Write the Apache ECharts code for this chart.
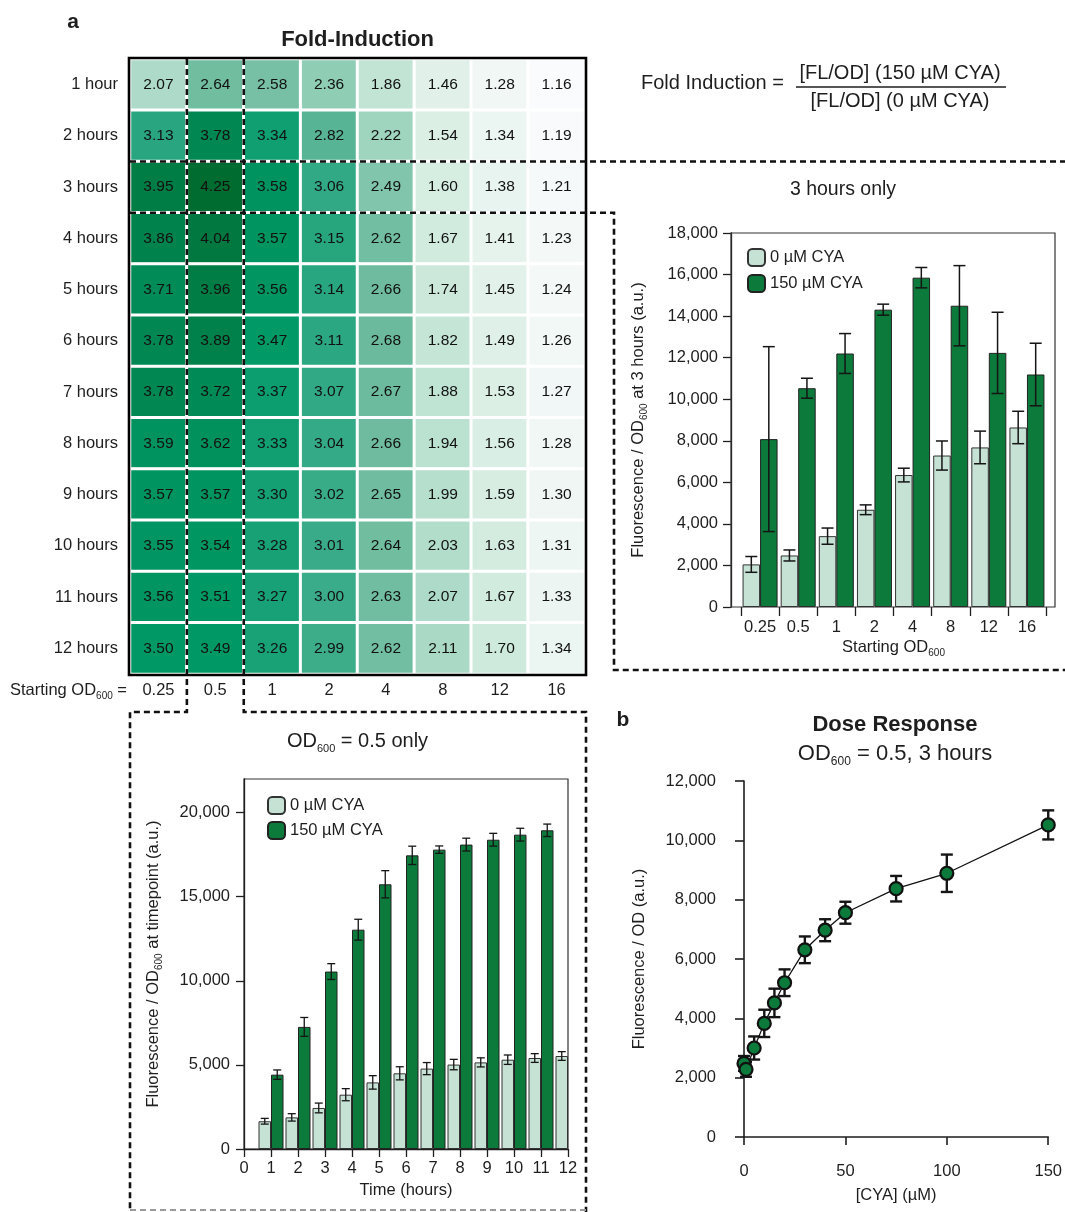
<!DOCTYPE html>
<html><head><meta charset="utf-8">
<script src="https://cdn.jsdelivr.net/npm/echarts@6/dist/echarts.min.js"></script>
<style>html,body{margin:0;padding:0;background:#fff}#c{width:1065px;height:1212px}</style>
</head><body><div id="c"></div>
<script>
// ---------- DATA ----------
const hmRows = ['1 hour','2 hours','3 hours','4 hours','5 hours','6 hours','7 hours','8 hours','9 hours','10 hours','11 hours','12 hours'];
const hmCols = ['0.25','0.5','1','2','4','8','12','16'];
const foldInduction = [
  [2.07,2.64,2.58,2.36,1.86,1.46,1.28,1.16],
  [3.13,3.78,3.34,2.82,2.22,1.54,1.34,1.19],
  [3.95,4.25,3.58,3.06,2.49,1.60,1.38,1.21],
  [3.86,4.04,3.57,3.15,2.62,1.67,1.41,1.23],
  [3.71,3.96,3.56,3.14,2.66,1.74,1.45,1.24],
  [3.78,3.89,3.47,3.11,2.68,1.82,1.49,1.26],
  [3.78,3.72,3.37,3.07,2.67,1.88,1.53,1.27],
  [3.59,3.62,3.33,3.04,2.66,1.94,1.56,1.28],
  [3.57,3.57,3.30,3.02,2.65,1.99,1.59,1.30],
  [3.55,3.54,3.28,3.01,2.64,2.03,1.63,1.31],
  [3.56,3.51,3.27,3.00,2.63,2.07,1.67,1.33],
  [3.50,3.49,3.26,2.99,2.62,2.11,1.70,1.34]
];

const od3Categories = ['0.25','0.5','1','2','4','8','12','16'];
const od3Cya0      = [2050,2480,3410,4680,6350,7290,7680,8640];
const od3Cya0Err   = [380,265,390,235,330,700,785,780];
const od3Cya150    = [8080,10530,12200,14310,15850,14500,12230,11190];
const od3Cya150Err = [4450,480,960,265,490,1930,1955,1505];

const timeHours  = [1,2,3,4,5,6,7,8,9,10,11,12];
const tCya0      = [1650,1880,2440,3230,3960,4500,4780,5020,5150,5310,5410,5530];
const tCya0Err   = [170,220,290,360,400,390,360,310,270,280,260,260];
const tCya150    = [4420,7260,10550,13040,15740,17460,17800,18100,18390,18690,18950,null];
const tCya150Err = [280,560,470,620,810,545,220,380,380,380,370,null];

const doseCya = [0,1,5,10,15,20,30,40,50,75,100,150];
const doseFl  = [2480,2280,3000,3830,4520,5200,6310,6970,7560,8370,8890,10520];
const doseErr = [250,250,390,460,480,450,450,370,370,430,630,490];

const legendNames = ['0 µM CYA','150 µM CYA'];

// ---------- STYLE ----------
const FF = '"Liberation Sans", Arial, Helvetica, sans-serif';
const INK = '#1e1e1e';
const LIGHT = '#c6e2d5', DARK = '#0b7a3a';
const HM = {left:130, top:59, width:455, height:615};
const colW = HM.width / hmCols.length, rowH = HM.height / hmRows.length;

const fmt = v => Number(v).toLocaleString('en-US');
const subRich = (size, sub, lh) => ({
  n:{fontSize:size, fontFamily:FF, color:INK, lineHeight:lh, verticalAlign:'middle'},
  s:{fontSize:sub, fontFamily:FF, color:INK, lineHeight:8, verticalAlign:'bottom'}
});

function errBar(offset, cap, lw) {
  return function (params, api) {
    const x = api.value(0), lo = api.value(1), hi = api.value(2);
    const a = api.coord([x, lo]), b = api.coord([x, hi]);
    const cx = a[0] + offset;
    const st = {stroke: '#151515', lineWidth: lw};
    return {type:'group', children:[
      {type:'line', shape:{x1:cx, y1:a[1], x2:cx, y2:b[1]}, style:st},
      {type:'line', shape:{x1:cx-cap, y1:a[1], x2:cx+cap, y2:a[1]}, style:st},
      {type:'line', shape:{x1:cx-cap, y1:b[1], x2:cx+cap, y2:b[1]}, style:st}
    ]};
  };
}
const errData = (xs, ys, es) => ys.map((v,i)=> v==null ? null : [xs[i], v-es[i], v+es[i]]).filter(d=>d);

const heatData = [];
foldInduction.forEach((row, r) => row.forEach((v, c) => heatData.push([c, r, v])));

const axisLineStyle = {color: INK, width: 1.3};
const labelStyle = {fontSize:16.5, fontFamily:FF, color:INK};

const chart = echarts.init(document.getElementById('c'), null, {renderer:'canvas'});
const option = {
  backgroundColor:'#fff',
  animation:false,
  grid:[
    {left:HM.left, top:HM.top, width:HM.width, height:HM.height},
    {left:741, top:233, width:305, height:374},
    {left:244, top:779, width:324, height:370, show:true, borderColor:'#333', borderWidth:1.2},
    {left:744, top:781, width:309, height:356}
  ],
  xAxis:[
    {gridIndex:0, type:'category', data:hmCols, position:'bottom',
     axisLine:{show:false}, axisTick:{show:false},
     axisLabel:{margin:8, interval:0, ...labelStyle}},
    {gridIndex:1, type:'category', data:od3Categories,
     axisLine:{show:false}, axisTick:{show:true, length:9, interval:0, lineStyle:axisLineStyle},
     axisLabel:{margin:12, interval:0, ...labelStyle},
     name:'{n|Starting OD}{s|600}', nameLocation:'middle', nameGap:29,
     nameTextStyle:{rich:subRich(16.5,10,22)}},
    {gridIndex:2, type:'value', min:0, max:12, interval:1,
     axisLine:{show:true, lineStyle:axisLineStyle}, axisTick:{show:true, length:8, lineStyle:axisLineStyle},
     splitLine:{show:false}, axisLabel:{margin:11, ...labelStyle},
     name:'Time (hours)', nameLocation:'middle', nameGap:33,
     nameTextStyle:{fontSize:16.5, fontFamily:FF, color:INK}},
    {gridIndex:3, type:'value', min:0, max:150, interval:50, offset:15,
     axisLine:{show:true, lineStyle:{color:INK, width:1.6}}, axisTick:{show:true, length:8, lineStyle:{color:INK, width:1.6}},
     splitLine:{show:false}, axisLabel:{margin:11, ...labelStyle},
     name:'[CYA] (µM)', nameLocation:'middle', nameGap:35,
     nameTextStyle:{fontSize:16.5, fontFamily:FF, color:INK}}
  ],
  yAxis:[
    {gridIndex:0, type:'category', data:hmRows, inverse:true,
     axisLine:{show:false}, axisTick:{show:false},
     axisLabel:{margin:12, interval:0, ...labelStyle}},
    {gridIndex:1, type:'value', min:0, max:18000, interval:2000, offset:10,
     axisLine:{show:true, lineStyle:axisLineStyle}, axisTick:{show:true, length:8, lineStyle:axisLineStyle},
     splitLine:{show:false}, axisLabel:{margin:13, formatter:fmt, ...labelStyle},
     name:'{n|Fluorescence / OD}{s|600}{n| at 3 hours (a.u.)}', nameLocation:'middle', nameGap:82,
     nameTextStyle:{rich:subRich(16.5,10,22)}},
    {gridIndex:2, type:'value', min:0, max:22000,
     axisLine:{show:true, lineStyle:axisLineStyle},
     axisTick:{show:true, length:8, lineStyle:axisLineStyle, customValues:[0,5000,10000,15000,20000]},
     splitLine:{show:false},
     axisLabel:{margin:14, formatter:fmt, customValues:[0,5000,10000,15000,20000], ...labelStyle},
     name:'{n|Fluorescence / OD}{s|600}{n| at timepoint (a.u.)}', nameLocation:'middle', nameGap:80,
     nameTextStyle:{rich:subRich(16.5,10,22)}},
    {gridIndex:3, type:'value', min:0, max:12000, interval:2000, offset:14,
     axisLine:{show:true, lineStyle:{color:INK, width:1.6}}, axisTick:{show:true, length:9, lineStyle:{color:INK, width:1.6}},
     splitLine:{show:false}, axisLabel:{margin:14, formatter:fmt, ...labelStyle},
     name:'Fluorescence / OD (a.u.)', nameLocation:'middle', nameGap:82,
     nameTextStyle:{fontSize:16.5, fontFamily:FF, color:INK}}
  ],
  visualMap:{show:false, seriesIndex:0, dimension:2, min:1.15, max:4.25,
    inRange:{color:['#fbfbfd','#dbefe5','#bde2d2','#95d0b9','#69b99c','#2ea883','#009a67','#00824c','#006c2f']}},
  legend:[
    {data:legendNames, left:742, top:243, orient:'vertical', itemWidth:17, itemHeight:17, itemGap:7, icon:'roundRect',
     textStyle:{fontSize:16.5, fontFamily:FF, color:INK}},
    {data:legendNames, left:262, top:791, orient:'vertical', itemWidth:17, itemHeight:17, itemGap:6, icon:'roundRect',
     textStyle:{fontSize:16.5, fontFamily:FF, color:INK}}
  ],
  series:[
    {type:'heatmap', xAxisIndex:0, yAxisIndex:0, data:heatData,
     itemStyle:{borderColor:'#fff', borderWidth:3},
     label:{show:true, formatter:p=>p.value[2].toFixed(2), fontSize:15.5, fontFamily:FF, color:'#111'},
     emphasis:{disabled:true}},
    // 3 hours only
    {type:'bar', name:legendNames[0], xAxisIndex:1, yAxisIndex:1, data:od3Cya0, barWidth:17.5, barGap:'0%',
     itemStyle:{color:LIGHT, borderColor:'#333', borderWidth:1}},
    {type:'bar', name:legendNames[1], xAxisIndex:1, yAxisIndex:1, data:od3Cya150, barWidth:17.5, barGap:'0%',
     itemStyle:{color:DARK, borderColor:'#222', borderWidth:1}},
    {type:'custom', xAxisIndex:1, yAxisIndex:1, renderItem:errBar(-8.75,6,1.5), z:5,
     data:errData(od3Cya0.map((_,i)=>i), od3Cya0, od3Cya0Err), encode:{x:0, y:[1,2]}},
    {type:'custom', xAxisIndex:1, yAxisIndex:1, renderItem:errBar(8.75,6,1.5), z:5,
     data:errData(od3Cya150.map((_,i)=>i), od3Cya150, od3Cya150Err), encode:{x:0, y:[1,2]}},
    // OD 0.5 time course
    {type:'bar', name:legendNames[0], xAxisIndex:2, yAxisIndex:2, data:timeHours.map((h,i)=>[h,tCya0[i]]),
     barWidth:12.5, barGap:'0%', itemStyle:{color:LIGHT, borderColor:'#333', borderWidth:1}},
    {type:'bar', name:legendNames[1], xAxisIndex:2, yAxisIndex:2,
     data:timeHours.map((h,i)=>[h,tCya150[i]]).filter(d=>d[1]!=null),
     barWidth:12.5, barGap:'0%', itemStyle:{color:DARK, borderColor:'#222', borderWidth:1}},
    {type:'custom', xAxisIndex:2, yAxisIndex:2, renderItem:errBar(-6.25,4,1.3), z:5,
     data:errData(timeHours, tCya0, tCya0Err), encode:{x:0, y:[1,2]}},
    {type:'custom', xAxisIndex:2, yAxisIndex:2, renderItem:errBar(6.25,4,1.3), z:5,
     data:errData(timeHours, tCya150, tCya150Err), encode:{x:0, y:[1,2]}},
    // dose response
    {type:'custom', xAxisIndex:3, yAxisIndex:3, renderItem:errBar(0,6,2.4), z:2,
     data:errData(doseCya, doseFl, doseErr), encode:{x:0, y:[1,2]}},
    {type:'line', xAxisIndex:3, yAxisIndex:3, data:doseCya.map((x,i)=>[x,doseFl[i]]), z:3,
     symbol:'circle', symbolSize:13, showSymbol:true,
     itemStyle:{color:DARK, borderColor:'#111', borderWidth:2.2},
     lineStyle:{color:'#111', width:1.3}, emphasis:{disabled:true}}
  ],
  graphic:[]
};

// ---------- ANNOTATIONS ----------
const G = option.graphic;
const txt = (x, y, text, o) => G.push({type:'text', x, y, z:50, silent:true,
  style:Object.assign({text, fontFamily:FF, fill:INK, fontSize:20, align:'center', verticalAlign:'middle'}, o||{})});
txt(73, 22, 'a', {fontWeight:'bold', fontSize:21});
txt(HM.left + HM.width/2, 40, 'Fold-Induction', {fontWeight:'bold', fontSize:22});
txt(641, 83, 'Fold Induction =', {align:'left'});
txt(900, 73, '[FL/OD] (150 µM CYA)');
txt(900, 101, '[FL/OD] (0 µM CYA)');
G.push({type:'line', z:50, silent:true, shape:{x1:796, y1:87, x2:1006, y2:87}, style:{stroke:INK, lineWidth:1.3}});
txt(843, 190, '3 hours only', {fontSize:19.5});
txt(HM.left - 3, 690, '{n|Starting OD}{s|600}{n| =}', {align:'right', rich:subRich(16.5,10,22)});
txt(HM.left + HM.width/2, 741, '{n|OD}{s|600}{n| = 0.5 only}', {rich:subRich(20,11,26)});
txt(623, 720, 'b', {fontWeight:'bold', fontSize:21});
txt(895, 725, 'Dose Response', {fontWeight:'bold', fontSize:22});
txt(895, 754, '{n|OD}{s|600}{n| = 0.5, 3 hours}', {rich:subRich(22,12,28)});

// heatmap frame
G.push({type:'rect', z:60, silent:true, shape:{x:HM.left-1, y:HM.top-1, width:HM.width+2, height:HM.height+2},
  style:{fill:'none', stroke:'#000', lineWidth:2.6}});
// 3-hour chart frame
G.push({type:'rect', z:60, silent:true, shape:{x:731, y:233, width:324, height:374},
  style:{fill:'none', stroke:'#333', lineWidth:1.2}});

// dashed guide lines
const dash = (pts, stroke, lw) => G.push({type:'polyline', z:70, silent:true, shape:{points:pts},
  style:{fill:'none', stroke:stroke||'#111', lineWidth:lw||2.6, lineDash:[6,4]}});
const yR3 = HM.top + 2*rowH, yR4 = HM.top + 3*rowH;
const xC1 = HM.left + colW, xC2 = HM.left + 2*colW;
dash([[HM.left, yR3],[1065, yR3]]);
dash([[HM.left, yR4],[614, yR4],[614, 670],[1065, 670]]);
dash([[xC1, HM.top],[xC1, 712],[HM.left, 712],[HM.left, 1212]]);
dash([[xC2, HM.top],[xC2, 712],[586, 712],[586, 1212]]);
dash([[HM.left, 1210],[586, 1210]], '#9a9a9a', 2);

chart.setOption(option);
</script>
</body></html>
